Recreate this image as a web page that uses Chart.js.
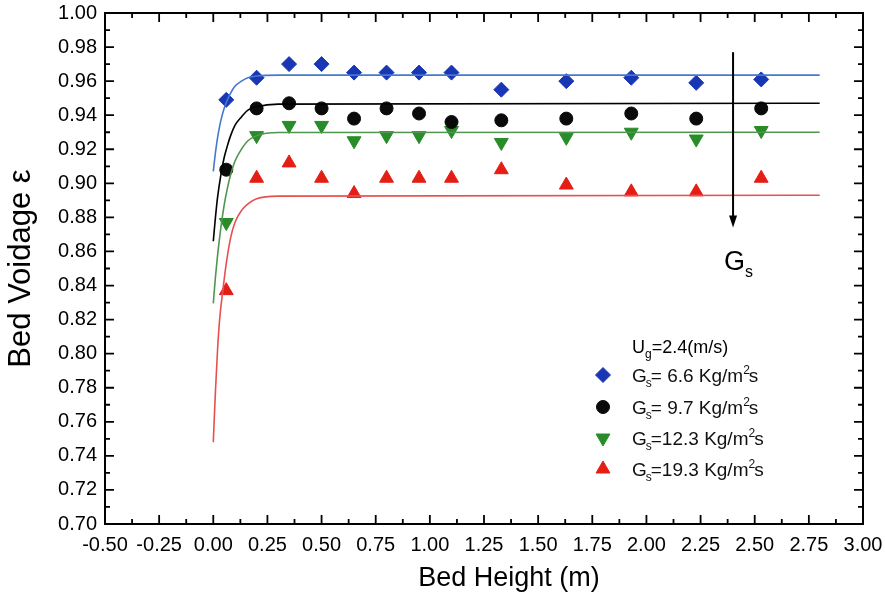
<!DOCTYPE html>
<html>
<head>
<meta charset="utf-8">
<script src="https://cdn.jsdelivr.net/npm/chart.js@4"></script>
<style>
  html, body { margin: 0; padding: 0; background: #fff; }
  #wrap { width: 885px; height: 607px; }
</style>
</head>
<body>
<div id="wrap"><canvas id="myChart" width="885" height="607"></canvas></div>
<script>
// measured points (bed height in m)
const heights = [0.06, 0.2, 0.35, 0.5, 0.65, 0.8, 0.95, 1.1, 1.33, 1.63, 1.93, 2.23, 2.53];
const gs66 = [0.949, 0.962, 0.970, 0.970, 0.965, 0.965, 0.965, 0.965, 0.955, 0.960, 0.962, 0.959, 0.961];
const gs97 = [0.908, 0.944, 0.947, 0.944, 0.938, 0.944, 0.941, 0.936, 0.937, 0.938, 0.941, 0.938, 0.944];
const gs123 = [0.877, 0.928, 0.934, 0.934, 0.925, 0.928, 0.928, 0.931, 0.924, 0.927, 0.930, 0.926, 0.931];
const gs193 = [0.837, 0.903, 0.912, 0.903, 0.894, 0.903, 0.903, 0.903, 0.908, 0.899, 0.895, 0.895, 0.903];

// fitted curves
const fitX = [0, 0.01, 0.02, 0.035, 0.05, 0.065, 0.08, 0.1, 0.13, 0.16, 0.2, 0.3, 2.8];
const fit66 = [0.907, 0.918, 0.927, 0.937, 0.944, 0.949, 0.953, 0.957, 0.960, 0.962, 0.963, 0.9635, 0.9635];
const fit97 = [0.866, 0.880, 0.892, 0.905, 0.915, 0.922, 0.928, 0.934, 0.939, 0.943, 0.945, 0.9465, 0.947];
const fit123 = [0.8295, 0.845, 0.858, 0.874, 0.887, 0.897, 0.905, 0.913, 0.920, 0.925, 0.928, 0.9298, 0.930];
const fitX193 = [0, 0.01, 0.02, 0.03, 0.045, 0.06, 0.08, 0.1, 0.13, 0.16, 0.2, 0.3, 2.8];
const fit193 = [0.748, 0.778, 0.803, 0.821, 0.838, 0.853, 0.868, 0.877, 0.884, 0.888, 0.891, 0.8925, 0.893];

const legendLabels = ['= 6.6 Kg/m', '= 9.7 Kg/m', '=12.3 Kg/m', '=19.3 Kg/m'];

const FONT = "'Liberation Sans', Arial, Helvetica, sans-serif";
const markerColors = ['rgb(25,55,180)', 'rgb(10,10,10)', 'rgb(40,140,40)', 'rgb(228,30,20)'];
const lineColors = ['rgb(70,120,205)', 'rgb(0,0,0)', 'rgb(80,150,80)', 'rgb(232,80,80)'];
const markerStyles = ['rectRot', 'circle', 'triangle', 'triangle'];
const markerRot = [0, 0, 180, 0];
const markerRad = [7.5, 6.5, 8, 8];

function pts(xs, ys) {
    return xs.map((x, i) => ({x: x, y: ys[i]}));
}

const pointSets = [gs66, gs97, gs123, gs193];
const fitSets = [pts(fitX, fit66), pts(fitX, fit97), pts(fitX, fit123), pts(fitX193, fit193)];

const datasets = [];
fitSets.forEach((d, i) => {
    datasets.push({
        data: d,
        showLine: true,
        borderColor: lineColors[i],
        borderWidth: 1.6,
        pointRadius: 0,
        cubicInterpolationMode: 'monotone',
        fill: false
    });
});
pointSets.forEach((ys, i) => {
    datasets.push({
        data: pts(heights, ys),
        showLine: false,
        pointStyle: markerStyles[i],
        rotation: markerRot[i],
        pointRadius: markerRad[i],
        pointBackgroundColor: markerColors[i],
        pointBorderColor: markerColors[i],
        pointBorderWidth: 1
    });
});

// frame, inward ticks, arrow, x title and legend
const decorations = {
    id: 'decorations',
    afterDraw(chart) {
        const {ctx, chartArea: a, scales: {x, y}} = chart;
        ctx.save();
        ctx.strokeStyle = '#000';
        ctx.lineWidth = 2;
        ctx.strokeRect(a.left, a.top, a.right - a.left, a.bottom - a.top);

        ctx.lineWidth = 1.8;
        ctx.beginPath();
        x.ticks.forEach((t, i) => {
            const px = x.getPixelForValue(t.value);
            ctx.moveTo(px, a.bottom); ctx.lineTo(px, a.bottom - 9);
            ctx.moveTo(px, a.top); ctx.lineTo(px, a.top + 9);
            if (i < x.ticks.length - 1) {
                const mx = x.getPixelForValue((t.value + x.ticks[i + 1].value) / 2);
                ctx.moveTo(mx, a.bottom); ctx.lineTo(mx, a.bottom - 5);
                ctx.moveTo(mx, a.top); ctx.lineTo(mx, a.top + 5);
            }
        });
        y.ticks.forEach((t, i) => {
            const py = y.getPixelForValue(t.value);
            ctx.moveTo(a.left, py); ctx.lineTo(a.left + 9, py);
            ctx.moveTo(a.right, py); ctx.lineTo(a.right - 9, py);
            if (i < y.ticks.length - 1) {
                const my = y.getPixelForValue((t.value + y.ticks[i + 1].value) / 2);
                ctx.moveTo(a.left, my); ctx.lineTo(a.left + 5, my);
                ctx.moveTo(a.right, my); ctx.lineTo(a.right - 5, my);
            }
        });
        ctx.stroke();

        // arrow showing increasing Gs
        const ax = x.getPixelForValue(2.4);
        const y0 = y.getPixelForValue(0.977);
        const y1 = y.getPixelForValue(0.874);
        ctx.lineWidth = 2;
        ctx.beginPath();
        ctx.moveTo(ax, y0); ctx.lineTo(ax, y1 - 8);
        ctx.stroke();
        ctx.fillStyle = '#000';
        ctx.beginPath();
        ctx.moveTo(ax - 4, y1 - 12); ctx.lineTo(ax + 4, y1 - 12); ctx.lineTo(ax, y1);
        ctx.closePath();
        ctx.fill();

        ctx.textBaseline = 'alphabetic';
        ctx.textAlign = 'left';
        ctx.font = '27px ' + FONT;
        const gy = y.getPixelForValue(0.849);
        ctx.fillText('G', ax - 9, gy);
        ctx.font = '16px ' + FONT;
        ctx.fillText('s', ax + 12, gy + 7);

        // x axis title, set right of centre as in the original
        ctx.textAlign = 'center';
        ctx.textBaseline = 'middle';
        ctx.font = '27px ' + FONT;
        ctx.fillText('Bed Height (m)', 509, 579);

        // legend
        ctx.textAlign = 'left';
        ctx.textBaseline = 'alphabetic';
        const lx = 603, tx = 632;
        ctx.font = '18px ' + FONT;
        ctx.fillText('U', tx, 353);
        let w = ctx.measureText('U').width;
        ctx.font = '12px ' + FONT;
        ctx.fillText('g', tx + w, 358);
        const wg = ctx.measureText('g').width;
        ctx.font = '18px ' + FONT;
        ctx.fillText('=2.4(m/s)', tx + w + wg, 353);

        const rows = [375, 407, 438, 469];
        rows.forEach((ry, i) => {
            ctx.fillStyle = markerColors[i];
            ctx.strokeStyle = markerColors[i];
            ctx.lineWidth = 1;
            Chart.helpers.drawPoint(ctx, {pointStyle: markerStyles[i], rotation: markerRot[i], radius: markerRad[i], borderWidth: 1}, lx, ry);
            ctx.fillStyle = '#111';
            const by = ry + 7;
            let cx = tx;
            ctx.font = '19px ' + FONT;
            ctx.fillText('G', cx, by);
            cx += ctx.measureText('G').width - 1;
            ctx.font = '12px ' + FONT;
            ctx.fillText('s', cx, by + 5);
            cx += ctx.measureText('s').width - 1;
            ctx.font = '19px ' + FONT;
            ctx.fillText(legendLabels[i], cx, by);
            cx += ctx.measureText(legendLabels[i]).width;
            ctx.font = '12px ' + FONT;
            ctx.fillText('2', cx, by - 8);
            cx += ctx.measureText('2').width - 1;
            ctx.font = '19px ' + FONT;
            ctx.fillText('s', cx, by);
        });
        ctx.restore();
    }
};

const ctx = document.getElementById('myChart').getContext('2d');

let myChart = new Chart(ctx, {
    type: 'scatter',
    data: { datasets: datasets },
    options: {
        responsive: false,
        animation: false,
        layout: { padding: { top: 13, right: 22, left: 0, bottom: 0 } },
        plugins: {
            legend: { display: false },
            tooltip: { enabled: false }
        },
        scales: {
            x: {
                type: 'linear',
                min: -0.5,
                max: 3,
                afterFit(s) {
                    s.height = 83;
                    s.paddingLeft = 0;
                    s.paddingRight = 0;
                },
                grid: { display: false, drawTicks: false },
                border: { display: false },
                ticks: {
                    stepSize: 0.25,
                    autoSkip: false,
                    maxRotation: 0,
                    padding: 9,
                    color: '#000',
                    font: { family: FONT, size: 20 },
                    callback: v => v.toFixed(2)
                }
            },
            y: {
                type: 'linear',
                min: 0.7,
                max: 1.0,
                afterFit(s) {
                    s.width = 105;
                    s.paddingTop = 0;
                    s.paddingBottom = 0;
                },
                grid: { display: false, drawTicks: false },
                border: { display: false },
                ticks: {
                    stepSize: 0.02,
                    autoSkip: false,
                    padding: 8,
                    color: '#000',
                    font: { family: FONT, size: 20 },
                    callback: v => v.toFixed(2)
                },
                title: {
                    display: true,
                    text: 'Bed Voidage ε',
                    color: '#000',
                    font: { family: FONT, size: 31 },
                    padding: { top: 3 }
                }
            }
        }
    },
    plugins: [decorations]
});
</script>
</body>
</html>
